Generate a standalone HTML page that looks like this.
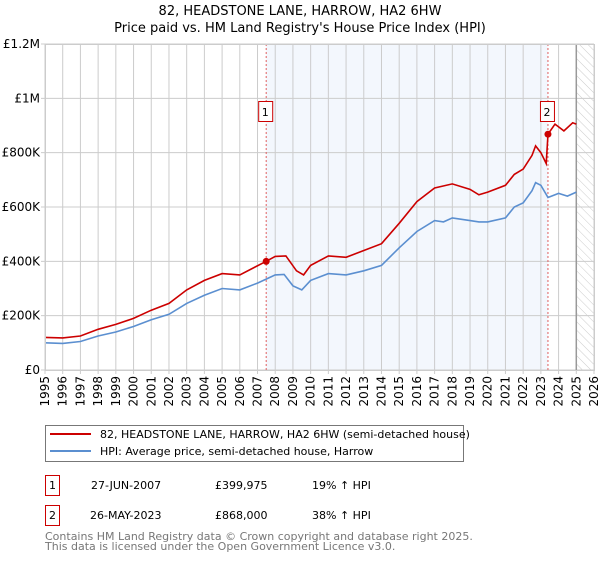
<!DOCTYPE html>
<html><head><meta charset="utf-8"><style>
body{margin:0;background:#fff;font-family:"DejaVu Sans","Liberation Sans",sans-serif;}
svg text{font-family:"DejaVu Sans","Liberation Sans",sans-serif;}
</style></head><body>
<svg id="chart" width="600" height="560" viewBox="0 0 600 560" xmlns="http://www.w3.org/2000/svg">
<defs><pattern id="hatch" width="6" height="6" patternUnits="userSpaceOnUse" patternTransform="rotate(-45)"><line x1="0" y1="0" x2="0" y2="6" stroke="#ccc" stroke-width="1"/></pattern></defs>
<text x="300" y="15" text-anchor="middle" font-size="13">82, HEADSTONE LANE, HARROW, HA2 6HW</text>
<text x="300" y="32" text-anchor="middle" font-size="13">Price paid vs. HM Land Registry's House Price Index (HPI)</text>
<g id="plot"></g>
<g>
<rect x="45.5" y="425.5" width="418" height="36" fill="#fff" stroke="#777"/>
<line x1="50" y1="434" x2="91" y2="434" stroke="#cc0000" stroke-width="2"/>
<text x="100" y="438" font-size="11">82, HEADSTONE LANE, HARROW, HA2 6HW (semi-detached house)</text>
<line x1="50" y1="451" x2="91" y2="451" stroke="#5b8fd0" stroke-width="2"/>
<text x="100" y="455" font-size="11">HPI: Average price, semi-detached house, Harrow</text>
</g>
<g font-size="11">
<rect x="45.5" y="475.5" width="14" height="20" fill="#fff" stroke="#cc0000"/><text x="52.5" y="489" text-anchor="middle">1</text>
<text x="91" y="489">27-JUN-2007</text><text x="215" y="489">£399,975</text><text x="312" y="489">19% ↑ HPI</text>
<rect x="45.5" y="505.5" width="14" height="20" fill="#fff" stroke="#cc0000"/><text x="52.5" y="519" text-anchor="middle">2</text>
<text x="90" y="519">26-MAY-2023</text><text x="215" y="519">£868,000</text><text x="312" y="519">38% ↑ HPI</text>
</g>
<text x="45" y="540" font-size="11" fill="#777">Contains HM Land Registry data © Crown copyright and database right 2025.</text>
<text x="45" y="550" font-size="11" fill="#777">This data is licensed under the Open Government Licence v3.0.</text>
</svg>
<script>
const hpiYears=[1995,1996,1997,1998,1999,2000,2001,2002,2003,2004,2005,2006,2007,2007.5,2008,2008.5,2009,2009.5,2010,2011,2012,2013,2014,2015,2016,2017,2017.5,2018,2019,2019.5,2020,2021,2021.5,2022,2022.5,2022.7,2023,2023.4,2024,2024.5,2025];
const hpiValues=[100000,98000,105000,125000,140000,160000,185000,205000,245000,275000,300000,295000,320000,335000,350000,352000,310000,295000,330000,355000,350000,365000,385000,450000,510000,550000,545000,560000,550000,545000,545000,560000,600000,615000,660000,690000,680000,635000,650000,640000,655000];
const redYears=[1995,1996,1997,1998,1999,2000,2001,2002,2003,2004,2005,2006,2007.49,2008,2008.6,2009.2,2009.6,2010,2011,2012,2013,2014,2015,2016,2017,2018,2019,2019.5,2020,2021,2021.5,2022,2022.5,2022.7,2023,2023.3,2023.4,2023.8,2024.3,2024.8,2025];
const redValues=[120000,118000,125000,150000,168000,190000,220000,245000,295000,330000,355000,350000,400000,418000,420000,365000,350000,385000,420000,415000,440000,465000,540000,620000,670000,685000,665000,645000,655000,680000,720000,740000,790000,825000,800000,760000,868000,905000,880000,910000,905000];
const saleYears=[2007.49,2023.4];
const saleValues=[399975,868000];
const saleLabels=["1","2"];
const yTicks=[0,200000,400000,600000,800000,1000000,1200000];
const yTickLabels=["£0","£200K","£400K","£600K","£800K","£1M","£1.2M"];
const xTicks=[1995,1996,1997,1998,1999,2000,2001,2002,2003,2004,2005,2006,2007,2008,2009,2010,2011,2012,2013,2014,2015,2016,2017,2018,2019,2020,2021,2022,2023,2024,2025,2026];

const X0=45,X1=594,Y0=370,Y1=44;
const x=v=>X0+(v-1995)/(2026-1995)*(X1-X0);
const y=v=>Y0-v/1200000*(Y0-Y1);
const NS="http://www.w3.org/2000/svg";
const g=document.getElementById('plot');
function mk(t,a){const e=document.createElementNS(NS,t);for(const k in a)e.setAttribute(k,a[k]);g.appendChild(e);return e;}

let e=mk('rect',{x:x(saleYears[0]),y:Y1,width:x(saleYears[1])-x(saleYears[0]),height:Y0-Y1,fill:'#eef3fc',opacity:0.7});


e=mk('rect',{x:x(2025),y:Y1,width:X1-x(2025),height:Y0-Y1,fill:'url(#hatch)'});


xTicks.forEach(t=>{
  const l=mk('line',{x1:x(t),x2:x(t),y1:Y1,y2:Y0+4,stroke:'#ccc'});
  
  
  const tx=mk('text',{x:0,y:0,'font-size':12,'text-anchor':'end',transform:`translate(${x(t)+4},${Y0+6}) rotate(-90)`});
  tx.textContent=t;
  
  
});
yTicks.forEach((t,i)=>{
  const l=mk('line',{x1:X0-4,x2:X1,y1:y(t),y2:y(t),stroke:'#ccc'});
  
  
  const tx=mk('text',{x:X0-5,y:y(t)+4,'font-size':12,'text-anchor':'end'});
  tx.textContent=yTickLabels[i];
  
  
});
e=mk('line',{x1:x(2025),x2:x(2025),y1:Y1,y2:Y0,stroke:'#999','stroke-width':1.5});


saleYears.forEach((s,i)=>{
  const l=mk('line',{x1:x(s),x2:x(s),y1:Y1,y2:Y0,stroke:'#e06060','stroke-dasharray':'2,2'});
  
  
});
function path(xs,vs,col,name){
  const p=mk('path',{d:xs.map((t,i)=>(i?'L':'M')+x(t).toFixed(1)+','+y(vs[i]).toFixed(1)).join(''),fill:'none',stroke:col,'stroke-width':1.6});
  
  
}
path(hpiYears,hpiValues,'#5b8fd0','hpi-line');
path(redYears,redValues,'#cc0000','property-line');
saleYears.forEach((s,i)=>{
  const c=mk('circle',{cx:x(s),cy:y(saleValues[i]),r:3.5,fill:'#cc0000'});
  
  
  const r=mk('rect',{x:x(s)-7.5,y:101.5,width:14,height:20,fill:'#fff',stroke:'#cc0000'});
  
  
  const t=mk('text',{x:x(s)-1,y:116,'font-size':11,'text-anchor':'middle'});
  t.textContent=saleLabels[i];
  
  
});
e=mk('rect',{x:X0+0.5,y:Y1+0.5,width:X1-X0,height:Y0-Y1,fill:'none',stroke:'#ccc'});


</script>
</body></html>
